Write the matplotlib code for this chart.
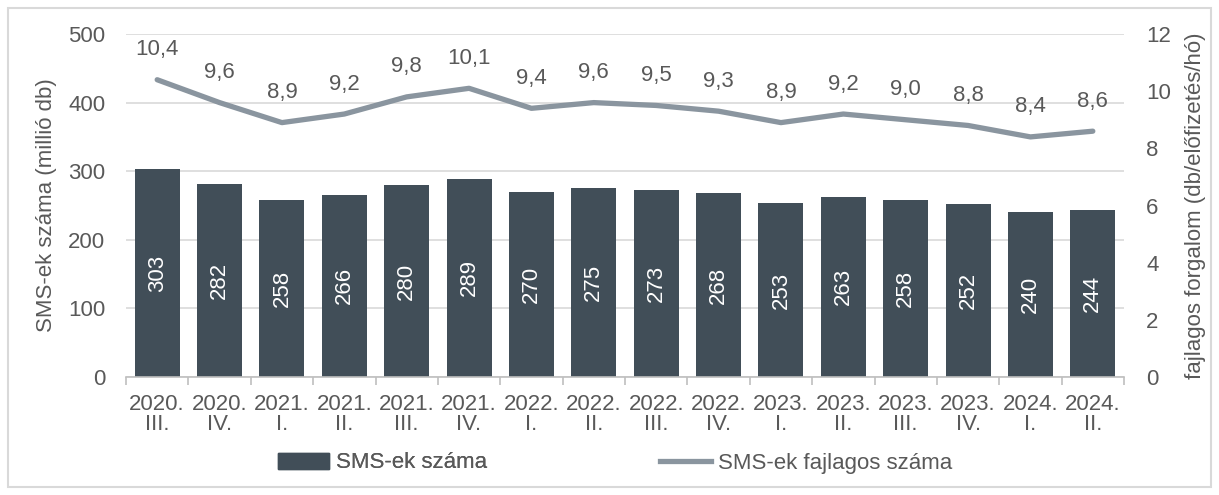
import matplotlib
matplotlib.use("Agg")
import matplotlib.pyplot as plt
from matplotlib.patches import Rectangle
from matplotlib.lines import Line2D
import numpy as np

plt.rcParams['font.family'] = ['Liberation Sans', 'DejaVu Sans']

categories = ["2020.\nIII.", "2020.\nIV.", "2021.\nI.", "2021.\nII.", "2021.\nIII.", "2021.\nIV.",
              "2022.\nI.", "2022.\nII.", "2022.\nIII.", "2022.\nIV.", "2023.\nI.", "2023.\nII.",
              "2023.\nIII.", "2023.\nIV.", "2024.\nI.", "2024.\nII."]
sms_count = [303, 282, 258, 266, 280, 289, 270, 275, 273, 268, 253, 263, 258, 252, 240, 244]
sms_specific = [10.4, 9.6, 8.9, 9.2, 9.8, 10.1, 9.4, 9.6, 9.5, 9.3, 8.9, 9.2, 9.0, 8.8, 8.4, 8.6]

bar_color = "#414e58"
line_color = "#8a959f"
text_color = "#595959"
grid_color = "#d9d9d9"
FS = 16

fig = plt.figure(figsize=(12.19, 4.95), dpi=100)
fig.patches.append(Rectangle((8/1219, 8/495), 1203/1219, 479/495, transform=fig.transFigure,
                             fill=False, edgecolor="#d9d9d9", linewidth=1.5))

ax = fig.add_axes([126/1219, 1-377/495, (1124-126)/1219, (377-34)/495])
x = np.arange(len(categories))
ax.bar(x, sms_count, width=0.72, color=bar_color, zorder=2)
for xi, v in zip(x, sms_count):
    ax.text(xi, v/2, str(v), rotation=90, ha='center', va='center', color='white', fontsize=FS)

ax.set_xlim(-0.5, len(categories)-0.5)
ax.set_ylim(0, 500)
ax.set_yticks(range(0, 501, 100))
ax.yaxis.grid(True, color=grid_color, linewidth=1.2, zorder=0)
ax.set_axisbelow(True)
for s in ['top', 'right', 'left']:
    ax.spines[s].set_visible(False)
ax.spines['bottom'].set_color("#bfbfbf")
ax.spines['bottom'].set_linewidth(1.2)
ax.tick_params(axis='y', length=0, labelsize=FS, labelcolor=text_color, pad=15)
ax.set_xticks(x)
ax.set_xticklabels(categories, fontsize=FS, color=text_color, linespacing=0.95)
ax.tick_params(axis='x', length=0, pad=12)
ax.set_xticks(np.arange(-0.5, len(categories), 1), minor=True)
ax.tick_params(axis='x', which='minor', length=6, color="#bfbfbf", width=1.2)
ax.set_ylabel("SMS-ek száma (millió db)", fontsize=FS, color=text_color, labelpad=8)

ax2 = ax.twinx()
ax2.plot(x, sms_specific, color=line_color, linewidth=3.8, solid_capstyle='round', zorder=3)
for xi, v in zip(x, sms_specific):
    ax2.annotate(f"{v:.1f}".replace('.', ','), (xi, v), xytext=(0, 14), textcoords='offset points',
                 ha='center', va='bottom', fontsize=FS, color=text_color)
ax2.set_ylim(0, 12)
ax2.set_yticks(range(0, 13, 2))
for s in ['top', 'right', 'left', 'bottom']:
    ax2.spines[s].set_visible(False)
ax2.tick_params(axis='y', length=0, labelsize=FS, labelcolor=text_color, pad=16)
ax2.set_ylabel("fajlagos forgalom (db/előfizetés/hó)", fontsize=FS, color=text_color, labelpad=10)

leg1 = fig.legend([Rectangle((0, 0), 1, 1, color=bar_color)], ["SMS-ek száma"], loc='center left',
                  bbox_to_anchor=(278/1219, 1-463/495), frameon=False, fontsize=FS, labelcolor=text_color,
                  borderpad=0, borderaxespad=0, handlelength=2.3, handletextpad=0.3)
leg2 = fig.legend([Line2D([0], [0], color=line_color, linewidth=3.8)], ["SMS-ek fajlagos száma"],
                  loc='center left', bbox_to_anchor=(660/1219, 1-463/495), frameon=False, fontsize=FS,
                  labelcolor=text_color, borderpad=0, borderaxespad=0, handlelength=2.3, handletextpad=0.3)
fig.add_artist(leg1)

fig.savefig("out.png", dpi=100)
